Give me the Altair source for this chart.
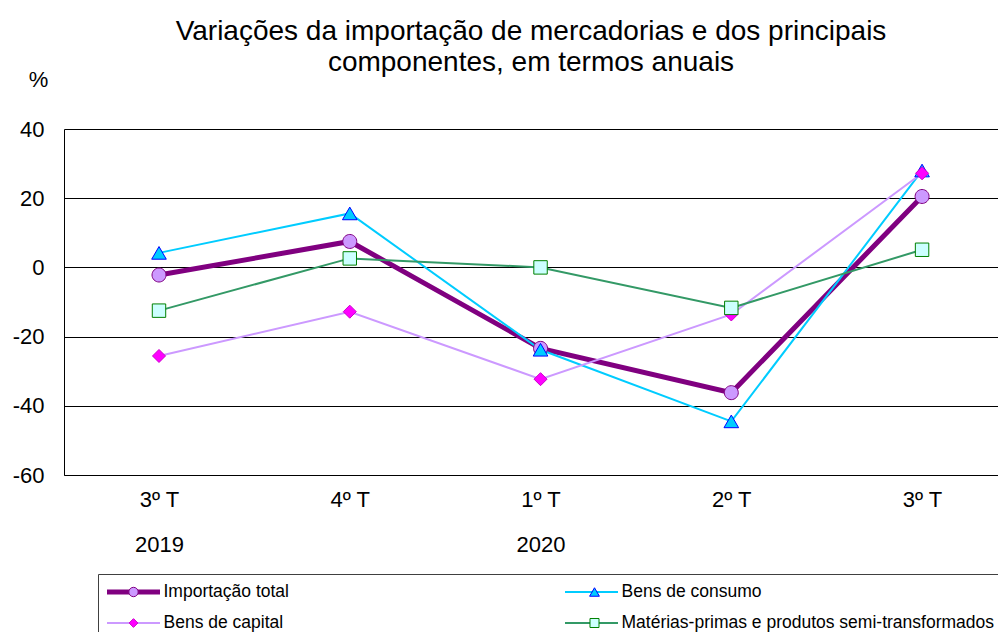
import json
import altair as alt
import pandas as pd

# ---- data ----
quarters = ["3º T", "4º T", "1º T", "2º T", "3º T"]
years = ["2019", "", "2020", "", ""]
series_names = [
    "Importação total",
    "Bens de consumo",
    "Bens de capital",
    "Matérias-primas e produtos semi-transformados",
]
importacao_total = [-2.2, 7.5, -23.4, -36.2, 20.5]
bens_consumo = [4.2, 15.6, -23.8, -44.5, 28.0]
bens_capital = [-25.6, -12.8, -32.3, -13.6, 27.2]
materias_primas = [-12.5, 2.6, 0.0, -11.7, 5.1]

# ---- styles ----
line_colors = ["#800080", "#00CCFF", "#CC99FF", "#339966"]
line_widths = [5, 2, 2, 2]
marker_fills = ["#CC99FF", "#00CCFF", "#FF00FF", "#CCFFFF"]
marker_strokes = ["#800080", "#0000FF", "#CC00CC", "#008000"]
marker_paths = [
    "M-0.177,0A0.177,0.177,0,1,1,0.177,0A0.177,0.177,0,1,1,-0.177,0Z",
    "M0,-0.16L0.185,0.16L-0.185,0.16Z",
    "M0,-0.165L0.165,0L0,0.165L-0.165,0Z",
    "M-0.17,-0.17H0.17V0.17H-0.17Z",
]
FONT = "Liberation Sans"

rows = []
for name, vals in zip(series_names, [importacao_total, bens_consumo, bens_capital, materias_primas]):
    for i, v in enumerate(vals):
        rows.append({"serie": name, "serie_m": name, "idx": i, "valor": v})
df = pd.DataFrame(rows)

# marker scales get an extra unused domain entry so that their legend stays separate
marker_domain = series_names + ["_"]

labels = [[q, y] if y else [q] for q, y in zip(quarters, years)]
label_expr = json.dumps(labels, ensure_ascii=False) + "[datum.value]"

x_axis = alt.Axis(
    values=list(range(len(quarters))), labelExpr=label_expr, title=None, grid=False,
    ticks=False, domainColor="#000000", labelFontSize=22, labelFont=FONT,
    labelColor="#000000", labelPadding=14, labelLineHeight=45, labelBaseline="top",
    labelFlush=False, labelOverlap=False,
)
y_axis = alt.Axis(
    values=[-60, -40, -20, 0, 20, 40], labelExpr="'' + datum.value", title="%",
    titleAngle=0, titleX=-26, titleY=-50,
    titleAlign="center", titleBaseline="middle", titleFontSize=22, titleFontWeight="normal",
    titleFont=FONT, titleColor="#000000", grid=True, gridColor="#000000", gridOpacity=1,
    ticks=False, domainColor="#000000", labelFontSize=22, labelFont=FONT,
    labelColor="#000000", labelPadding=20,
)

common_legend = dict(
    title=None, orient="none", legendX=34, legendY=445, columns=2, direction="horizontal",
    symbolSize=2809, labelFontSize=17.5, labelFont=FONT, labelColor="#000000",
    labelLimit=600, padding=5, clipHeight=26, rowPadding=5, values=series_names,
)
legend_lines = alt.Legend(symbolType="stroke", symbolOffset=1.5, labelOffset=1,
                          strokeColor="#404040", columnPadding=272, **common_legend)
legend_marks = alt.Legend(symbolOffset=3.5, labelOffset=7, symbolStrokeWidth=1,
                          symbolFillColor="#ffffff", symbolStrokeColor="#000000",
                          labelExpr="''", columnPadding=396, **common_legend)

x_enc = alt.X("idx:Q", scale=alt.Scale(domain=[-0.498, 4.398], nice=False, zero=False), axis=x_axis)
y_enc = alt.Y("valor:Q", scale=alt.Scale(domain=[-60, 40], nice=False, zero=False), axis=y_axis)

lines = alt.Chart(df).mark_line().encode(
    x=x_enc,
    y=y_enc,
    color=alt.Color("serie:N", scale=alt.Scale(domain=series_names, range=line_colors),
                    legend=legend_lines),
    strokeWidth=alt.StrokeWidth("serie:N", scale=alt.Scale(type="ordinal", domain=series_names,
                                range=line_widths), legend=legend_lines),
)

points = alt.Chart(df).mark_point(filled=True, size=6241, opacity=1, strokeWidth=1).encode(
    x="idx:Q",
    y="valor:Q",
    fill=alt.Fill("serie_m:N", scale=alt.Scale(domain=marker_domain,
                  range=marker_fills + ["#ffffff"]), legend=legend_marks),
    stroke=alt.Stroke("serie_m:N", scale=alt.Scale(domain=marker_domain,
                      range=marker_strokes + ["#ffffff"]), legend=legend_marks),
    shape=alt.Shape("serie_m:N", scale=alt.Scale(domain=marker_domain,
                    range=marker_paths + ["circle"]), legend=legend_marks),
)

chart = (
    alt.layer(lines, points)
    .properties(
        width=934,
        height=346,
        autosize=alt.AutoSizeParams(type="none"),
        padding={"left": 56, "top": 121, "right": 0, "bottom": 157},
        title=alt.TitleParams(
            text=["Variações da importação de mercadorias e dos principais",
                  "componentes, em termos anuais"],
            fontSize=28, font=FONT, fontWeight="normal", color="#000000",
            anchor="middle", lineHeight=31, offset=0, dy=9,
        ),
    )
    .configure(font=FONT, background="#ffffff")
    .configure_view(stroke="transparent")
)

chart.save("out.html", embed_options={"renderer": "svg", "actions": False})
